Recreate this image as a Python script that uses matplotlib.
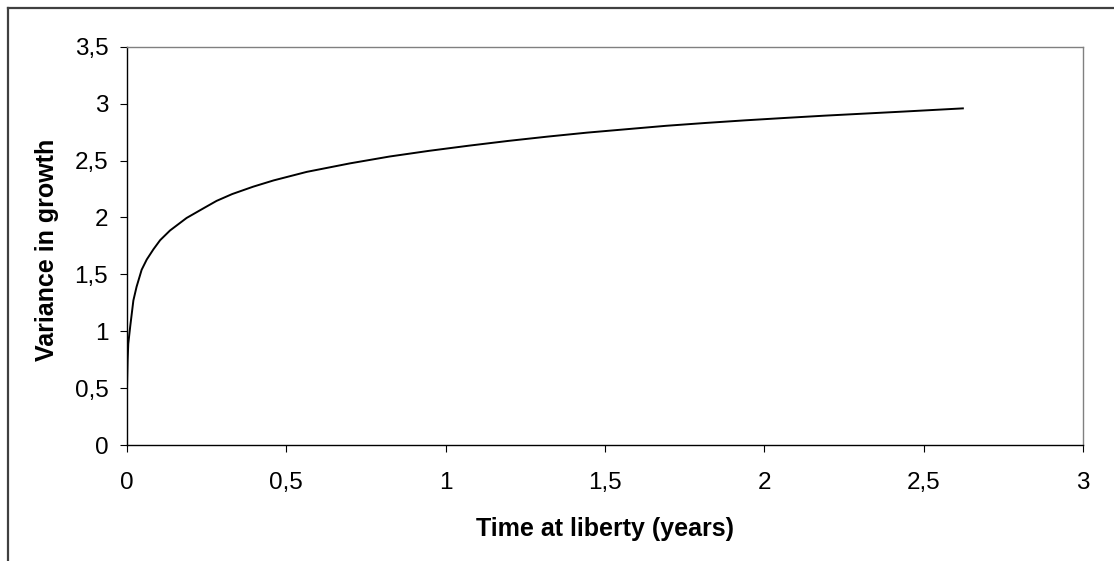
import matplotlib
matplotlib.use("Agg")
import matplotlib.pyplot as plt
from matplotlib.lines import Line2D
from matplotlib.ticker import FixedLocator, FuncFormatter

# Data
time_years = [0.000, 0.002, 0.004, 0.010, 0.020, 0.030, 0.046, 0.062, 0.083, 0.104,
              0.135, 0.187, 0.240, 0.281, 0.330, 0.396, 0.460, 0.564, 0.700, 0.824,
              0.948, 1.072, 1.196, 1.320, 1.444, 1.568, 1.692, 1.816, 1.940, 2.065,
              2.189, 2.313, 2.437, 2.623]
variance = [0.50, 0.75, 0.89, 1.04, 1.27, 1.39, 1.54, 1.63, 1.72, 1.80,
            1.885, 1.995, 2.08, 2.145, 2.205, 2.27, 2.325, 2.40, 2.475, 2.535,
            2.585, 2.630, 2.672, 2.710, 2.745, 2.775, 2.805, 2.830, 2.853, 2.874,
            2.894, 2.912, 2.930, 2.958]
x_ticks = [0, 0.5, 1, 1.5, 2, 2.5, 3]
y_ticks = [0, 0.5, 1, 1.5, 2, 2.5, 3, 3.5]
x_label = "Time at liberty (years)"
y_label = "Variance in growth"

W, H = 1114, 561
fig = plt.figure(figsize=(W / 100, H / 100), dpi=100)
fig.patch.set_facecolor("white")

ax = fig.add_axes([127 / W, 1 - 445 / H, (1083 - 127) / W, (445 - 46.7) / H])
ax.plot(time_years, variance, color="black", lw=1.4, solid_joinstyle="round")

ax.set_xlim(0, 3)
ax.set_ylim(0, 3.5)

def comma_fmt(v, pos=None):
    s = f"{v:g}"
    return s.replace(".", ",")

ax.xaxis.set_major_locator(FixedLocator(x_ticks))
ax.yaxis.set_major_locator(FixedLocator(y_ticks))
ax.xaxis.set_major_formatter(FuncFormatter(comma_fmt))
ax.yaxis.set_major_formatter(FuncFormatter(comma_fmt))

font = "Liberation Sans"
ax.tick_params(axis="both", direction="out", length=5, width=0.8, color="black",
               labelsize=17.5, labelcolor="black")
ax.tick_params(axis="x", pad=14.5)
ax.tick_params(axis="y", pad=8.5)
for lbl in ax.get_xticklabels() + ax.get_yticklabels():
    lbl.set_fontfamily(font)

for side in ("left", "bottom"):
    ax.spines[side].set_color("black")
    ax.spines[side].set_linewidth(1.0)
for side in ("top", "right"):
    ax.spines[side].set_color("#808080")
    ax.spines[side].set_linewidth(1.0)

ax.set_xlabel(x_label, fontsize=18, fontweight="bold", fontfamily=font, va="top")
ax.xaxis.set_label_coords(0.5, (445 - 517) / (445 - 46.7))
ax.set_ylabel(y_label, fontsize=18, fontweight="bold", fontfamily=font, va="center")
ax.yaxis.set_label_coords((47.5 - 127) / (1083 - 127), 0.49)

# Outer chart frame (only top and left edges visible in reference)
fig.add_artist(Line2D([8 / W, 1.0], [1 - 8 / H, 1 - 8 / H], transform=fig.transFigure,
                      color="#404040", lw=1.6))
fig.add_artist(Line2D([8 / W, 8 / W], [0.0, 1 - 8 / H], transform=fig.transFigure,
                      color="#404040", lw=1.6))

fig.savefig("out.png", dpi=100, facecolor="white")
